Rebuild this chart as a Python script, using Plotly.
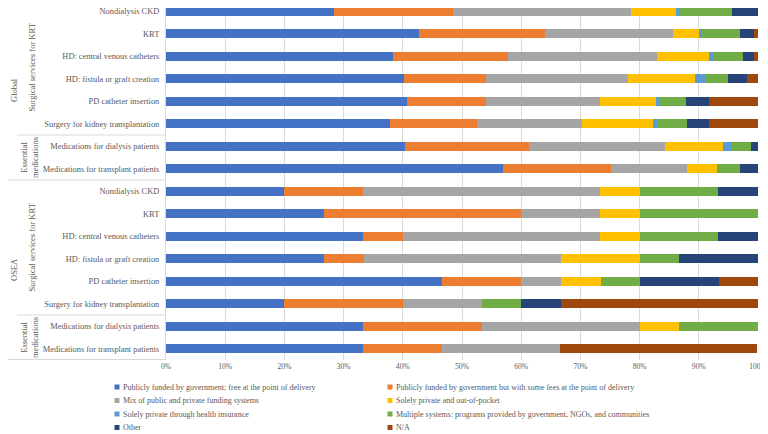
import plotly.graph_objects as go

# Row labels (top to bottom)
categories = [
    "Nondialysis CKD", "KRT", "HD: central venous catheters", "HD: fistula or graft creation",
    "PD catheter insertion", "Surgery for kidney transplantation",
    "Medications for dialysis patients", "Medications for transplant patients",
    "Nondialysis CKD", "KRT", "HD: central venous catheters", "HD: fistula or graft creation",
    "PD catheter insertion", "Surgery for kidney transplantation",
    "Medications for dialysis patients", "Medications for transplant patients",
]
regions = ["Global", "OSEA"]
subgroups = ["Surgical services for KRT", "Essential<br>medications"]

series_names = [
    "Publicly funded by government; free at the point of delivery",
    "Publicly funded by government but with some fees at the point of delivery",
    "Mix of public and private funding systems",
    "Solely private and out-of-pocket",
    "Solely private through health insurance",
    "Multiple systems: programs provided by government, NGOs, and communities",
    "Other",
    "N/A",
]

# Percent values per series (Global rows 1-8, then OSEA rows 1-8)
free_at_delivery = [28.3, 42.8, 38.3, 40.2, 40.7, 37.9, 40.4, 57.0,
                    20.0, 26.7, 33.3, 26.7, 46.7, 20.0, 33.3, 33.3]
public_with_fees = [20.1, 21.3, 19.5, 13.9, 13.4, 14.6, 21.0, 18.1,
                    13.3, 33.3, 6.7, 6.7, 13.3, 20.0, 20.0, 13.3]
mixed_systems = [30.2, 21.5, 25.2, 23.9, 19.2, 17.7, 22.9, 12.9,
                 40.0, 13.3, 33.3, 33.3, 6.7, 13.3, 26.7, 20.0]
private_out_of_pocket = [7.6, 4.4, 8.8, 11.4, 9.5, 12.0, 9.8, 5.0,
                         6.7, 6.7, 6.7, 13.3, 6.7, 0.0, 6.7, 0.0]
private_insurance = [0.6, 0.5, 0.7, 1.7, 0.6, 0.7, 1.4, 0.0,
                     0.0, 0.0, 0.0, 0.0, 0.0, 0.0, 0.0, 0.0]
multiple_systems = [8.8, 6.4, 5.0, 3.9, 4.5, 5.1, 3.3, 4.0,
                    13.3, 20.0, 13.3, 6.7, 6.7, 6.7, 13.3, 0.0]
other = [4.4, 2.4, 1.8, 3.2, 3.8, 3.8, 1.2, 3.0,
         6.7, 0.0, 6.7, 13.3, 13.3, 6.7, 0.0, 0.0]
not_applicable = [0.0, 0.7, 0.7, 1.8, 8.3, 8.2, 0.0, 0.0,
                  0.0, 0.0, 0.0, 0.0, 6.7, 33.3, 0.0, 33.3]

x_ticks = [0, 10, 20, 30, 40, 50, 60, 70, 80, 90, 100]

series_values = [free_at_delivery, public_with_fees, mixed_systems, private_out_of_pocket,
                 private_insurance, multiple_systems, other, not_applicable]
colors = ["#4472C4", "#ED7D31", "#A5A5A5", "#FFC000", "#5B9BD5", "#70AD47", "#264478", "#9E480E"]

ypos = list(range(len(categories)))

fig = go.Figure()
for name, vals, col in zip(series_names, series_values, colors):
    fig.add_trace(go.Bar(
        x=vals, y=ypos, orientation="h", name=name, showlegend=False,
        marker=dict(color=col, line=dict(width=0)),
        hovertemplate="%{x:.1f}%<extra>" + name + "</extra>",
    ))

# The page adds an 8px body margin; the figure is sized/offset to compensate.
OFF = 8
W, H = 768 - OFF, 434 - OFF
L, R, T, B = 166 - OFF, 10, 0, 74
pw = W - L - R
ph = H - T - B

ROW0 = 11.2 - OFF   # centre of first row, figure px
ROWSTEP = 22.5

def px_to_xpaper(px):
    return (px - OFF - L) / pw

def py_to_ypaper(py):
    return 1 - (py - OFF - T) / ph

text_color = "#595959"
font_family = "Liberation Serif, Times New Roman, serif"
fs = 8.4

shapes = []
line_style = dict(color="#D9D9D9", width=1)
# Horizontal separators on the category axis area
for py, x0 in [(135, 17), (180, 8), (315, 17), (359.5, 8)]:
    shapes.append(dict(type="line", xref="paper", yref="paper",
                       x0=px_to_xpaper(x0), x1=0, y0=py_to_ypaper(py), y1=py_to_ypaper(py),
                       line=line_style))

annotations = []
for i, reg in enumerate(regions):
    off = 180 * i
    annotations.append(dict(text=reg, xref="paper", yref="paper",
                            x=px_to_xpaper(14), y=py_to_ypaper(90 + off), showarrow=False,
                            textangle=-90, font=dict(family=font_family, size=8.5, color=text_color),
                            xanchor="center", yanchor="middle"))
    annotations.append(dict(text=subgroups[0], xref="paper", yref="paper",
                            x=px_to_xpaper(31), y=py_to_ypaper(67.5 + off), showarrow=False,
                            textangle=-90, font=dict(family=font_family, size=8.5, color=text_color),
                            xanchor="center", yanchor="middle"))
    annotations.append(dict(text=subgroups[1], xref="paper", yref="paper",
                            x=px_to_xpaper(29.5), y=py_to_ypaper(157.5 + off), showarrow=False,
                            textangle=-90, font=dict(family=font_family, size=8.5, color=text_color),
                            xanchor="center", yanchor="middle"))

# Custom compact legend (two columns, row-major order)
col_x = [117, 390]
row_y = [387, 400.5, 414, 427.5]
for k, (name, col) in enumerate(zip(series_names, colors)):
    cx = col_x[k % 2]
    cy = row_y[k // 2]
    shapes.append(dict(type="rect", xref="paper", yref="paper",
                       x0=px_to_xpaper(cx - 2.5), x1=px_to_xpaper(cx + 2.5),
                       y0=py_to_ypaper(cy - 2.5), y1=py_to_ypaper(cy + 2.5),
                       fillcolor=col, line=dict(width=0)))
    annotations.append(dict(text=name, xref="paper", yref="paper",
                            x=px_to_xpaper(cx + 4), y=py_to_ypaper(cy), showarrow=False,
                            xanchor="left", yanchor="middle",
                            font=dict(family=font_family, size=8, color=text_color)))

fig.update_layout(
    width=W, height=H,
    margin=dict(l=L, r=R, t=T, b=B, autoexpand=False),
    barmode="stack",
    bargap=0.6,
    plot_bgcolor="white",
    paper_bgcolor="white",
    font=dict(family=font_family, color=text_color, size=fs),
    showlegend=False,
    shapes=shapes,
    annotations=annotations,
)

fig.update_xaxes(
    range=[0, 100], tickvals=x_ticks, ticktext=[f"{v}%" for v in x_ticks],
    showgrid=True, gridcolor="#D9D9D9", gridwidth=1,
    zeroline=False, showline=False, automargin=False,
    tickfont=dict(family=font_family, size=7.6, color=text_color),
    ticks="", ticklabeloverflow="allow",
)
fig.update_yaxes(
    tickvals=ypos, ticktext=categories,
    range=[(ph - ROW0) / ROWSTEP, -ROW0 / ROWSTEP],
    showgrid=False, zeroline=False, automargin=False,
    showline=True, linecolor="#D9D9D9", linewidth=1,
    tickfont=dict(family=font_family, size=fs, color=text_color),
    ticks="", ticklabelstandoff=4, ticklabeloverflow="allow",
)

fig.write_html("out.html")
